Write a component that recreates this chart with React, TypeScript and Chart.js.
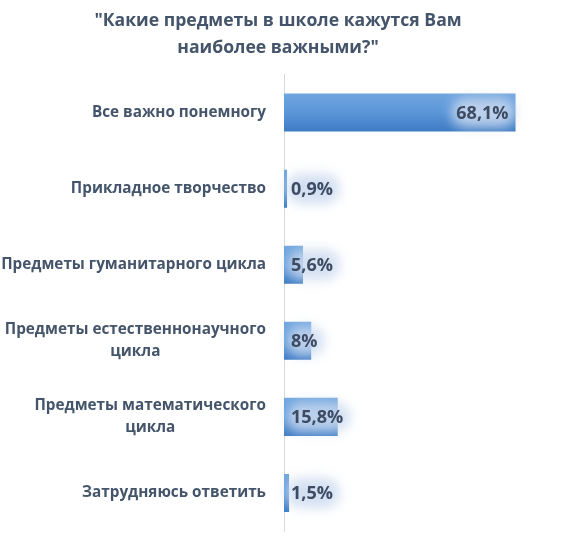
import React, { useEffect, useRef } from 'react';
import { Chart, registerables } from 'chart.js';

Chart.register(...registerables);

const titleLines = ['"Какие предметы в школе кажутся Вам', 'наиболее важными?"'];
const categories: string[][] = [
  ['Все важно понемногу'],
  ['Прикладное творчество'],
  ['Предметы гуманитарного цикла'],
  ['Предметы естественнонаучного', 'цикла'],
  ['Предметы математического', 'цикла'],
  ['Затрудняюсь ответить'],
];
const values = [68.1, 0.9, 5.6, 8, 15.8, 1.5];
const valueLabels = ['68,1%', '0,9%', '5,6%', '8%', '15,8%', '1,5%'];
const axisMax = 80;

const FONT = '"Open Sans", "Noto Sans", sans-serif';
const TEXT = '#44546A';
const BAR_PCT = 0.5;

const labelPlugin = {
  id: 'customLabels',
  afterDatasetsDraw(chart: any) {
    const ctx = chart.ctx;
    const ys = chart.scales.y;
    const xs = chart.scales.x;
    const meta = chart.getDatasetMeta(0);
    ctx.save();
    // category labels: block right aligned, lines centered within block
    ctx.font = `bold 15.3px ${FONT}`;
    ctx.fillStyle = TEXT;
    ctx.textAlign = 'center';
    ctx.textBaseline = 'middle';
    const right = 266;
    const lh = 22;
    categories.forEach((lines, i) => {
      const cy = ys.getPixelForValue(i);
      const maxW = Math.max(...lines.map((l) => ctx.measureText(l).width));
      const cx = right - maxW / 2;
      lines.forEach((l, j) => {
        const y = cy + (j - (lines.length - 1) / 2) * lh;
        ctx.fillText(l, cx, y);
      });
    });
    // value labels with soft glow
    ctx.font = `bold 18px ${FONT}`;
    const base = xs.getPixelForValue(0);
    values.forEach((v, i) => {
      const el = meta.data[i];
      const end = el.x;
      const cy = el.y;
      const txt = valueLabels[i];
      const w = ctx.measureText(txt).width;
      const x = Math.max(base + 7, end - 7 - w);
      ctx.save();
      ctx.filter = 'blur(6px)';
      ctx.fillStyle = 'rgba(205,218,240,0.85)';
      ctx.beginPath();
      (ctx as any).roundRect(x - 5, cy - 15, w + 12, 30, 15);
      ctx.fill();
      ctx.restore();
      ctx.textAlign = 'left';
      ctx.fillStyle = '#3d4c63';
      ctx.fillText(txt, x, cy + 1);
    });
    ctx.restore();
  },
};

export default function App() {
  const ref = useRef<HTMLCanvasElement | null>(null);
  useEffect(() => {
    if (!ref.current) return;
    const chart = new Chart(ref.current, {
      type: 'bar',
      data: {
        labels: categories.map((c) => c.join(' ')),
        datasets: [
          {
            data: values,
            backgroundColor: (c: any) => {
              const ch = c.chart;
              if (!ch.chartArea || !ch.scales.y) return '#5b9bd5';
              const ys = ch.scales.y;
              const cy = ys.getPixelForValue(c.dataIndex);
              const h = (ys.height / categories.length) * BAR_PCT / 2;
              const g = ch.ctx.createLinearGradient(0, cy - h, 0, cy + h);
              g.addColorStop(0, '#70a6df');
              g.addColorStop(0.5, '#5a96d8');
              g.addColorStop(1, '#3e7bc4');
              return g;
            },
            borderWidth: 0,
            barPercentage: BAR_PCT,
            categoryPercentage: 1,
          },
        ],
      },
      plugins: [labelPlugin],
      options: {
        indexAxis: 'y',
        animation: false,
        responsive: false,
        maintainAspectRatio: false,
        layout: { padding: { left: 0, right: 8, top: 0, bottom: 8 } },
        plugins: {
          legend: { display: false },
          tooltip: { enabled: false },
          title: {
            display: true,
            text: titleLines,
            color: TEXT,
            font: { family: FONT, size: 17.6, weight: 'bold', lineHeight: 1.55 },
            padding: { top: 7, bottom: 13 },
          },
        },
        scales: {
          x: { display: false, min: 0, max: axisMax },
          y: {
            grid: { display: false },
            border: { display: true, color: '#d9d9d9', width: 1 },
            ticks: { display: false },
            afterFit: (s: any) => {
              s.width = 284;
            },
          },
        },
      },
    } as any);
    return () => chart.destroy();
  }, []);
  return (
    <div style={{ position: 'fixed', left: 0, top: 0, width: 564, height: 539, background: '#fff' }}>
      <canvas ref={ref} width={564} height={539} style={{ width: 564, height: 539 }} />
    </div>
  );
}
